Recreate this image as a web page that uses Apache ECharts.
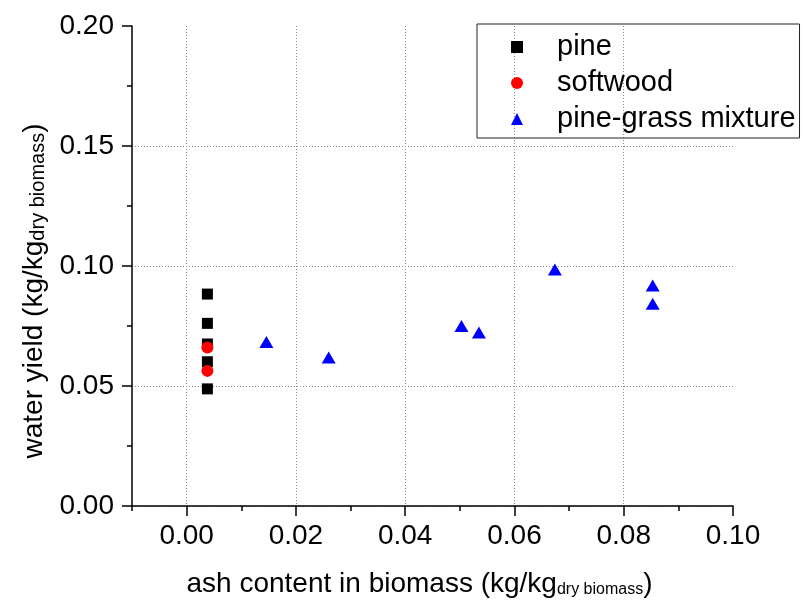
<!DOCTYPE html>
<html>
<head>
<meta charset="utf-8">
<title>water yield vs ash content</title>
<script src="https://cdn.jsdelivr.net/npm/echarts@6.0.0/dist/echarts.min.js"></script>
<style>
  html, body { margin: 0; padding: 0; background: #fff; }
  #chart { width: 804px; height: 609px; }
</style>
</head>
<body>
<div id="chart"></div>
<script>
// data
var seriesNames = ['pine', 'softwood', 'pine-grass mixture']
var pineX = [0.0038, 0.0038, 0.0038, 0.0038, 0.0038]
var pineY = [0.0883, 0.0761, 0.0675, 0.0601, 0.0488]
var softwoodX = [0.0038, 0.0038]
var softwoodY = [0.0660, 0.0563]
var mixtureX = [0.0146, 0.0260, 0.0503, 0.0535, 0.0674, 0.0853, 0.0853]
var mixtureY = [0.0683, 0.0619, 0.0750, 0.0723, 0.0985, 0.0919, 0.0843]
var xTicks = [0, 0.02, 0.04, 0.06, 0.08, 0.10]
var xGrid = [0, 0.02, 0.04, 0.06, 0.08]
var yGrid = [0, 0.05, 0.10, 0.15]

var font = 'Liberation Sans, Arial, sans-serif'

function pairs (xs, ys) {
  return xs.map(function (x, i) { return [x, ys[i]] })
}

var gridLine = {
  show: true,
  lineStyle: { color: '#8c8c8c', width: 1, type: [1, 2] }
}
var tickStyle = { color: '#000', width: 1.5 }

var chart = echarts.init(document.getElementById('chart'))
chart.setOption({
  animation: false,
  backgroundColor: '#fff',
  grid: { left: 132, right: 71, top: 26, bottom: 103 },
  legend: {
    orient: 'vertical',
    left: 477,
    top: 24,
    padding: [8, 4, 4, 34],
    borderColor: '#222',
    borderWidth: 1,
    itemWidth: 12,
    itemHeight: 12,
    itemGap: 6,
    textStyle: { fontFamily: font, fontSize: 29, color: '#000', lineHeight: 30, padding: [0, 0, 0, 29] },
    data: seriesNames
  },
  xAxis: [
    {
      type: 'value',
      position: 'bottom',
      min: -0.01,
      max: 0.1,
      interval: 0.01,
      name: '{m|ash content in biomass (kg/kg}{s|dry biomass}{m|)}',
      nameLocation: 'middle',
      nameGap: 62,
      nameTextStyle: {
        fontFamily: font,
        color: '#000',
        padding: [0, 26, 0, 0],
        rich: {
          m: { fontFamily: font, fontSize: 28, color: '#000', lineHeight: 30, verticalAlign: 'bottom' },
          s: { fontFamily: font, fontSize: 16, color: '#000', lineHeight: 8, verticalAlign: 'bottom' }
        }
      },
      axisLine: { show: true, onZero: false, lineStyle: { color: '#000', width: 1.5 } },
      axisTick: { show: false, customValues: xGrid },
      axisLabel: {
        customValues: xTicks,
        margin: 16,
        fontFamily: font,
        fontSize: 28,
        color: '#000',
        formatter: function (v) { return v.toFixed(2) }
      },
      splitLine: gridLine
    },
    {
      // major ticks
      type: 'value',
      position: 'bottom',
      min: -0.01,
      max: 0.1,
      axisLine: { show: false, onZero: false },
      axisTick: { show: true, customValues: xTicks, length: 10, lineStyle: tickStyle },
      axisLabel: { show: false },
      splitLine: { show: false }
    },
    {
      // minor ticks
      type: 'value',
      position: 'bottom',
      min: -0.01,
      max: 0.1,
      interval: 0.01,
      axisLine: { show: false, onZero: false },
      axisTick: { show: true, length: 5, lineStyle: tickStyle },
      axisLabel: { show: false },
      splitLine: { show: false }
    }
  ],
  yAxis: [
    {
      type: 'value',
      position: 'left',
      min: 0,
      max: 0.2,
      interval: 0.05,
      name: '{m|water yield (kg/kg}{s|dry biomass}{m|)}',
      nameLocation: 'middle',
      nameGap: 84,
      nameTextStyle: {
        fontFamily: font,
        color: '#000',
        padding: [0, 50, 0, 0],
        rich: {
          m: { fontFamily: font, fontSize: 28, color: '#000', lineHeight: 30, verticalAlign: 'bottom' },
          s: { fontFamily: font, fontSize: 20, color: '#000', lineHeight: 10, verticalAlign: 'bottom' }
        }
      },
      axisLine: { show: true, onZero: false, lineStyle: { color: '#000', width: 1.5 } },
      axisTick: { show: false, customValues: yGrid },
      axisLabel: {
        margin: 18,
        fontFamily: font,
        fontSize: 28,
        color: '#000',
        formatter: function (v) { return v.toFixed(2) }
      },
      splitLine: gridLine
    },
    {
      // major + minor ticks
      type: 'value',
      position: 'left',
      min: 0,
      max: 0.2,
      interval: 0.05,
      axisLine: { show: false, onZero: false },
      axisTick: { show: true, length: 10, lineStyle: tickStyle },
      minorTick: { show: true, splitNumber: 2, length: 5, lineStyle: tickStyle },
      axisLabel: { show: false },
      splitLine: { show: false }
    }
  ],
  series: [
    {
      name: seriesNames[0],
      type: 'scatter',
      symbol: 'rect',
      symbolSize: 11,
      itemStyle: { color: '#000', opacity: 1 },
      data: pairs(pineX, pineY)
    },
    {
      name: seriesNames[1],
      type: 'scatter',
      symbol: 'circle',
      symbolSize: 12,
      itemStyle: { color: '#ff0000', opacity: 1 },
      data: pairs(softwoodX, softwoodY)
    },
    {
      name: seriesNames[2],
      type: 'scatter',
      symbol: 'triangle',
      symbolSize: [14, 12],
      itemStyle: { color: '#0000ff', opacity: 1 },
      data: pairs(mixtureX, mixtureY)
    }
  ]
})
</script>
</body>
</html>
